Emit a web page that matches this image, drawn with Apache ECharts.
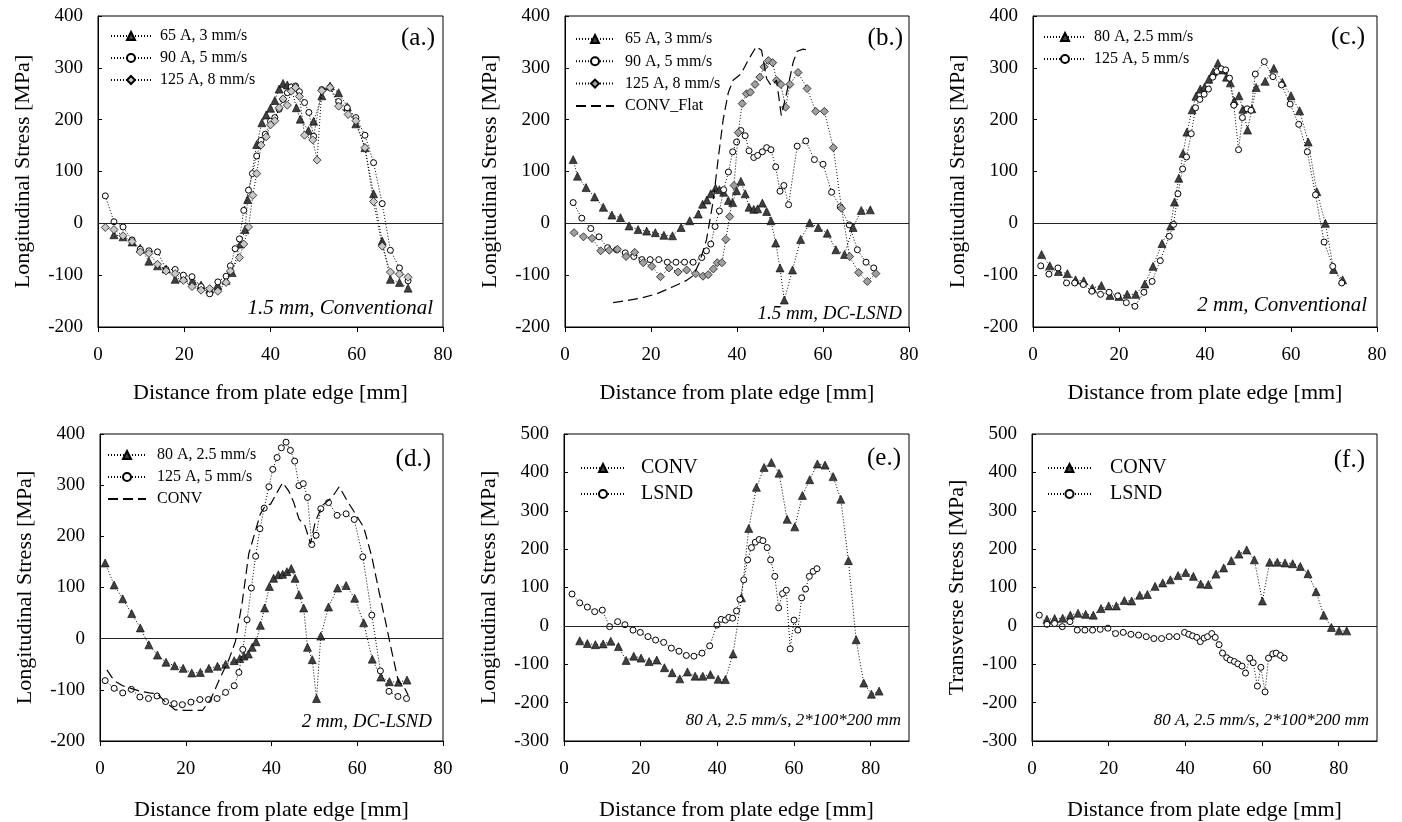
<!DOCTYPE html>
<html><head><meta charset="utf-8">
<script src="https://cdn.jsdelivr.net/npm/echarts@6/dist/echarts.min.js"></script>
<style>html,body{margin:0;padding:0;background:#fff}#c{width:1402px;height:822px}</style>
</head><body><div id="c"></div>
<script>
// ---------- DATA ----------
const xTicks = [0, 20, 40, 60, 80];
// (a.) 1.5 mm, Conventional
const a1 = [[3.7,-22],[5.8,-26],[7.9,-36],[9.8,-48],[11.8,-73],[13.8,-82],[15.8,-88],[17.9,-108],[19.8,-105],[21.9,-111],[23.9,-119],[25.9,-127],[27.8,-120],[29.7,-110],[31.1,-95],[33,-40],[34.1,-12],[34.7,46],[36.8,152],[38,194],[39,209],[40,222],[41,237],[42,259],[42.9,270],[43.9,267],[44.8,262],[46,223],[46.9,201],[48.8,179],[50,197],[51.9,246],[53.8,265],[55.8,252],[57.8,225],[59.8,192],[61.9,146],[63.9,57],[65.9,-34],[67.8,-108],[69.9,-114],[71.9,-125]];
const a2 = [[1.7,53],[3.7,3],[5.8,-7],[7.9,-32],[9.8,-50],[11.8,-53],[13.8,-55],[15.8,-89],[17.9,-89],[19.8,-100],[21.8,-103],[23.9,-122],[25.9,-136],[27.8,-113],[29.7,-102],[30.7,-82],[31.8,-49],[32.8,-30],[33.8,25],[34.9,64],[35.8,96],[36.8,130],[37.8,160],[38.8,172],[40,197],[41,204],[42,220],[42.9,239],[43.9,252],[44.8,263],[45.8,265],[46.7,254],[47.9,233],[48.9,214],[50,168],[51.9,258],[53.8,262],[55.8,235],[57.8,223],[59.8,204],[61.9,170],[63.9,117],[65.9,38],[67.8,-52],[69.9,-86],[71.9,-111]];
const a3 = [[1.7,-8],[3.7,-12],[5.8,-24],[7.9,-35],[9.8,-55],[11.8,-58],[13.8,-79],[15.8,-92],[17.9,-97],[19.8,-110],[21.8,-122],[23.9,-129],[25.9,-126],[27.8,-131],[29.7,-114],[30.7,-92],[32.8,-66],[33.8,-40],[34.9,-7],[35.9,54],[36.8,96],[37.8,151],[39,167],[40,190],[41,198],[42,223],[42.9,240],[43.9,228],[44.8,255],[45.8,262],[46.7,245],[47.9,170],[49.8,161],[50.8,122],[51.9,256],[53.8,262],[55.8,226],[58,210],[59.8,198],[61.9,146],[63.9,42],[65.9,-44],[67.8,-94],[69.9,-98],[71.9,-104]];
// (b.) 1.5 mm, DC-LSND
const b1 = [[1.9,123],[2.9,91],[4.9,69],[6.9,51],[8.9,31],[10.9,16],[12.9,11],[14.9,-5],[17,-12],[19,-15],[21,-18],[23,-23],[25,-24],[27,-8],[29,5],[31,18],[32,37],[33,45],[33.9,57],[35,68],[35.9,65],[36.9,60],[38,44],[39,40],[39.9,63],[40.9,81],[41.9,57],[42.8,31],[43.9,27],[44.8,28],[45.9,39],[46.9,23],[47.9,5],[49,-38],[50,-86],[51,-148],[52.9,-90],[54.8,-31],[56.9,1],[58.9,-8],[61,-19],[63,-51],[65,-60],[67,-8],[68.9,25],[71,26]];
const b2 = [[1.9,40],[3.9,10],[6,-10],[7.9,-26],[9.9,-47],[12,-51],[14,-57],[16,-64],[17.9,-70],[19.8,-70],[21.8,-70],[23.8,-75],[25.8,-75],[27.8,-75],[29.8,-75],[31.8,-66],[32.9,-53],[33.9,-40],[34.9,-6],[35.9,24],[36.9,65],[38,99],[39,138],[39.9,157],[40.9,179],[41.9,169],[42.8,140],[43.9,127],[44.8,131],[45.9,138],[46.9,146],[47.9,142],[49,109],[50,62],[50.9,73],[52,36],[54,149],[56,159],[58,123],[60,114],[62,60],[64,32],[66.1,-3],[68,-51],[70,-75],[71.8,-86]];
const b3 = [[2.1,-18],[4.3,-26],[6.3,-29],[8.3,-53],[10.3,-52],[12.2,-50],[14.2,-64],[16.2,-56],[18.2,-76],[20.2,-83],[22.2,-103],[24.2,-86],[26.3,-94],[28.3,-90],[30.4,-97],[32.1,-102],[33.3,-99],[34.5,-88],[35.4,-76],[36.5,-76],[37.4,-31],[38.3,13],[39.3,73],[40.3,175],[41.2,231],[42.2,250],[43.1,253],[44.2,268],[45.3,282],[46.3,302],[47.3,314],[48.3,310],[49.2,276],[50.2,268],[51.3,224],[52.3,268],[54.2,291],[56.3,260],[58.3,216],[60.3,216],[62.4,146],[64.3,29],[66.2,-64],[68.3,-95],[70.3,-112],[72.3,-97]];
const b4 = [[11.2,-153],[14.3,-149],[17.8,-144],[21.3,-136],[25.2,-122],[28.3,-110],[29.8,-101],[31.3,-75],[32.9,-32],[34.5,45],[35.6,123],[36.8,201],[38,253],[39.1,276],[41,289],[42.6,315],[44.5,341],[45.7,334],[46.9,279],[48,265],[49.2,276],[50.3,208],[51.5,250],[53.1,312],[54,332],[55.4,336],[56.5,334]];
// (c.) 2 mm, Conventional
const c1 = [[2,-60],[3.9,-82],[5.9,-93],[8,-97],[9.9,-109],[11.8,-111],[13.8,-125],[15.9,-120],[17.9,-139],[20,-141],[21.9,-137],[23.9,-137],[26,-117],[27.9,-83],[30,-39],[32,-5],[32.9,41],[33.9,87],[34.9,135],[35.8,176],[37,219],[37.9,245],[38.9,259],[39.9,263],[40.9,278],[41.9,292],[43,309],[44,296],[45,282],[45.9,271],[46.8,236],[47.9,246],[48.8,220],[49.9,180],[50.9,221],[51.9,262],[54,274],[56,299],[58,272],[60,246],[62,217],[64,157],[66,61],[68,0],[69.9,-89],[72,-109]];
const c2 = [[1.8,-82],[3.7,-98],[5.8,-86],[7.8,-115],[9.7,-115],[11.7,-118],[13.7,-131],[15.7,-137],[17.7,-133],[19.7,-140],[21.7,-153],[23.7,-160],[25.8,-133],[27.7,-112],[29.6,-72],[31.7,-25],[32.7,-2],[33.7,57],[34.8,105],[35.7,128],[36.8,173],[37.8,223],[38.8,239],[39.8,249],[40.8,259],[41.8,282],[42.8,293],[43.8,298],[44.8,296],[45.7,280],[46.7,228],[47.8,142],[48.7,204],[49.8,221],[50.7,218],[51.7,288],[53.8,312],[55.8,283],[57.8,267],[59.8,230],[61.8,191],[63.8,138],[65.7,55],[67.7,-36],[69.7,-83],[71.8,-115]];
// (d.) 2 mm, DC-LSND
const d1 = [[1.2,148],[3.3,105],[5.3,78],[7.4,49],[9.4,21],[11.4,-12],[13.4,-32],[15.4,-46],[17.4,-53],[19.4,-58],[21.4,-67],[23.4,-66],[25.4,-58],[27.4,-54],[29.3,-50],[31.3,-43],[32.6,-39],[33.6,-34],[34.6,-30],[35.5,-17],[36.4,-6],[37.4,26],[38.4,60],[39.5,102],[40.5,118],[41.6,125],[42.6,126],[43.6,131],[44.6,137],[45.5,118],[46.4,86],[47.5,60],[48.4,-17],[49.5,-41],[50.5,-117],[51.5,5],[53.3,62],[55.4,99],[57.4,104],[59.4,79],[61.5,31],[63.5,-40],[65.5,-75],[67.5,-84],[69.6,-85],[71.6,-81]];
const d2 = [[1.2,-82],[3.3,-97],[5.3,-106],[7.3,-99],[9.3,-114],[11.3,-117],[13.3,-112],[15.3,-123],[17.3,-127],[19.2,-129],[21.2,-124],[23.3,-119],[25.3,-119],[27.3,-117],[29.3,-105],[31.3,-92],[32.4,-66],[33.3,-21],[34.3,37],[35.3,99],[36.3,161],[37.3,215],[38.3,255],[39.4,297],[40.3,331],[41.3,354],[42.3,373],[43.4,384],[44.4,368],[45.4,347],[46.4,299],[47.4,303],[48.4,276],[49.4,184],[50.4,202],[51.5,254],[53.3,266],[55.3,241],[57.4,244],[59.3,233],[61.3,160],[63.4,46],[65.4,-63],[67.4,-103],[69.5,-113],[71.5,-117]];
const d3 = [[1.6,-61],[3.3,-82],[5.3,-92],[7.6,-98],[9.5,-103],[11.5,-106],[13.4,-108],[15.3,-124],[17.5,-139],[19.6,-140],[21.6,-140],[23.9,-140],[25.8,-119],[28.1,-75],[30.1,-40],[31.6,-5],[33.2,73],[34.7,166],[36.3,212],[37.4,244],[38.6,260],[39.8,263],[41.3,286],[42.6,305],[44,289],[45.2,266],[46.4,234],[47.8,221],[49.1,186],[50.2,228],[51.8,260],[54.1,276],[55.8,297],[57.6,270],[59.5,245],[61.5,218],[63.4,160],[65,95],[66.5,37],[68.1,-27],[69.6,-84],[70.8,-92],[71.9,-111]];
// (e.) 80 A, 2.5 mm/s, longitudinal
const e1 = [[4.1,-39],[6.1,-46],[8.2,-49],[10.2,-47],[12.2,-40],[14.2,-54],[16.2,-90],[18.2,-79],[20.1,-84],[22.2,-93],[24.2,-89],[26.2,-109],[28.2,-122],[30.2,-138],[32.2,-120],[34.2,-131],[36.2,-131],[38.2,-127],[40.2,-139],[42.1,-140],[44.1,-73],[46.3,73],[48.2,254],[50.2,361],[52.2,413],[54.1,426],[56.1,398],[58.2,278],[60.2,258],[62.2,340],[64.1,381],[66.1,422],[68.1,419],[70.2,389],[72.2,330],[74.2,170],[76.2,-36],[78.2,-149],[80.2,-178],[82.2,-170]];
const e2 = [[2.1,83],[4.1,60],[6.1,49],[8,37],[10,41],[11.9,-2],[14,11],[15.9,3],[18,-11],[19.9,-17],[21.9,-28],[23.9,-37],[26,-43],[28,-58],[30,-66],[31.9,-77],[33.9,-79],[36,-71],[38,-52],[39.9,2],[41,17],[42.1,15],[43,22],[44,20],[45,39],[45.9,69],[46.9,120],[47.9,172],[48.9,204],[49.9,218],[50.9,225],[51.9,222],[53,204],[53.9,172],[55,129],[56,47],[57,84],[58,93],[59,-60],[60,15],[61,-11],[62,73],[63,96],[64,129],[65,142],[66,149]];
// (f.) 80 A, 2.5 mm/s, transverse
const f1 = [[3.9,17],[5.9,19],[8,20],[10,28],[12,33],[14,30],[16,28],[18,45],[20,52],[22,52],[24.1,66],[26,65],[28.1,80],[30.1,82],[32.1,103],[34.1,112],[36.1,120],[38.1,131],[40.1,139],[42.1,129],[44,109],[46,108],[48,135],[50,151],[52,170],[54,187],[56,198],[58,172],[60.1,65],[62,166],[64,166],[66,164],[68,162],[70,155],[72,136],[74.1,89],[76.1,28],[78.1,-4],[80.1,-13],[82.1,-13]];
const f2 = [[1.9,28],[3.9,4],[5.9,6],[7.9,-2],[9.9,11],[11.8,-11],[13.8,-11],[15.8,-11],[17.8,-9],[19.8,-6],[21.8,-20],[23.8,-17],[25.8,-22],[27.8,-24],[29.8,-28],[31.8,-33],[33.8,-33],[35.8,-28],[37.8,-28],[39.8,-17],[40.9,-22],[41.9,-26],[43,-30],[43.9,-41],[44.9,-32],[45.8,-28],[46.9,-20],[47.8,-30],[48.8,-49],[49.7,-71],[50.8,-83],[51.7,-89],[52.8,-93],[53.7,-99],[54.8,-105],[55.7,-123],[56.8,-84],[57.7,-96],[58.8,-157],[59.7,-108],[60.8,-172],[61.7,-84],[62.8,-73],[63.7,-71],[64.8,-77],[65.8,-84]];

// ---------- STYLE / LAYOUT ----------
const FONT = 'Liberation Serif';
const DOT = [1, 2];
const styles = {
  tri:  {symbol:'triangle', symbolSize:8, itemStyle:{color:'#404040', borderColor:'#000', borderWidth:0.6}},
  circ: {symbol:'circle', symbolSize:6, itemStyle:{color:'#fff', borderColor:'#000', borderWidth:1}},
  diaL: {symbol:'diamond', symbolSize:8, itemStyle:{color:'#c8c8c8', borderColor:'#000', borderWidth:0.7}},
  dia:  {symbol:'diamond', symbolSize:8, itemStyle:{color:'#a0a0a0', borderColor:'#000', borderWidth:0.7}},
  dash: {symbol:'none', itemStyle:{color:'#000'}}
};

const panels = [
  {k:'a', grid:{left:98, top:16, width:345, height:311}, ymin:-200, ymax:400, xmax:80, yName:'Longitudinal Stress [MPa]',
   tag:'(a.)', tagPos:[435,38.5], note:'1.5 mm, Conventional', noteFs:21, notePos:[433,308],
   leg:{left:110, top:28, w:40, gap:6, pad:4, fs:16, lh:14},
   series:[['65 A, 3 mm/s',a1,'tri'],['90 A, 5 mm/s',a2,'circ'],['125 A, 8 mm/s',a3,'diaL']]},
  {k:'b', grid:{left:565, top:16, width:344, height:311}, ymin:-200, ymax:400, xmax:80, yName:'Longitudinal Stress [MPa]',
   tag:'(b.)', tagPos:[903,38.5], note:'1.5 mm, DC-LSND', noteFs:19, notePos:[902,314],
   leg:{left:575, top:31, w:38, gap:6.3, pad:6, fs:16, lh:14},
   series:[['65 A, 3 mm/s',b1,'tri'],['90 A, 5 mm/s',b2,'circ'],['125 A, 8 mm/s',b3,'dia'],['CONV_Flat',b4,'dash']]},
  {k:'c', grid:{left:1033, top:16, width:344, height:311}, ymin:-200, ymax:400, xmax:80, yName:'Longitudinal Stress [MPa]',
   tag:'(c.)', tagPos:[1365,37], note:'2 mm, Conventional', noteFs:21, notePos:[1367,305],
   leg:{left:1043, top:29, w:42, gap:6, pad:3, fs:16, lh:14},
   series:[['80 A, 2.5 mm/s',c1,'tri'],['125 A, 5 mm/s',c2,'circ']]},
  {k:'d', grid:{left:100, top:434, width:343, height:308}, ymin:-200, ymax:400, xmax:80, yName:'Longitudinal Stress [MPa]',
   tag:'(d.)', tagPos:[431,459], note:'2 mm, DC-LSND', noteFs:19, notePos:[432,722],
   leg:{left:107, top:447, w:38, gap:6, pad:6, fs:16, lh:14},
   series:[['80 A, 2.5 mm/s',d1,'tri'],['125 A, 5 mm/s',d2,'circ'],['CONV',d3,'dash']]},
  {k:'e', grid:{left:564, top:434, width:345, height:308}, ymin:-300, ymax:500, xmax:90, yName:'Longitudinal Stress [MPa]',
   tag:'(e.)', tagPos:[901,458], note:'80 A, 2.5 mm/s, 2*100*200 mm', noteFs:17, notePos:[901,721],
   leg:{left:580, top:458, w:44, gap:6, pad:11, fs:20, lh:18},
   series:[['CONV',e1,'tri'],['LSND',e2,'circ']]},
  {k:'f', grid:{left:1032, top:434, width:345, height:308}, ymin:-300, ymax:500, xmax:90, yName:'Transverse Stress [MPa]',
   tag:'(f.)', tagPos:[1365,460], note:'80 A, 2.5 mm/s, 2*100*200 mm', noteFs:17, notePos:[1369,721],
   leg:{left:1047, top:458, w:43, gap:6, pad:14, fs:20, lh:18},
   series:[['CONV',f1,'tri'],['LSND',f2,'circ']]}
];

const grid = [], xAxis = [], yAxis = [], series = [], legend = [], graphic = [];
panels.forEach((p, i) => {
  grid.push(Object.assign({show:true, borderColor:'#000', borderWidth:1, containLabel:false}, p.grid));
  xAxis.push({type:'value', gridIndex:i, min:0, max:p.xmax, interval:20,
    axisLine:{show:true, onZero:false, lineStyle:{color:'#000', width:1}},
    axisTick:{show:true, inside:false, length:5, lineStyle:{color:'#000'}, customValues:xTicks},
    axisLabel:{color:'#000', fontFamily:FONT, fontSize:19, margin:19, customValues:xTicks},
    splitLine:{show:false},
    name:'Distance from plate edge [mm]', nameLocation:'middle', nameGap: i < 3 ? 55 : 58,
    nameTextStyle:{color:'#000', fontFamily:FONT, fontSize:22}});
  yAxis.push({type:'value', gridIndex:i, min:p.ymin, max:p.ymax, interval:100,
    axisLine:{show:true, onZero:false, lineStyle:{color:'#000', width:1}},
    axisTick:{show:true, inside:true, length:4, lineStyle:{color:'#000'}},
    axisLabel:{color:'#000', fontFamily:FONT, fontSize:19, margin:15},
    splitLine:{show:false},
    name:p.yName, nameLocation:'middle', nameGap:64,
    nameTextStyle:{color:'#000', fontFamily:FONT, fontSize:22}});
  const legData = [];
  p.series.forEach((s, j) => {
    const st = styles[s[2]];
    const nm = p.k + ':' + s[0];
    const ser = {type:'line', name:nm, xAxisIndex:i, yAxisIndex:i, data:s[1],
      symbol:st.symbol, symbolSize:st.symbolSize || 0, showSymbol: st.symbol !== 'none',
      itemStyle:st.itemStyle,
      lineStyle: s[2] === 'dash' ? {type:[10,5], width:1.2, color:'#000'} : {type:DOT, width:1, color:'#000'},
      emphasis:{disabled:true}, silent:true, animation:false, z: 3 + j};
    if (j === 0) {
      ser.markLine = {silent:true, symbol:'none', animation:false, label:{show:false},
        lineStyle:{type:'solid', color:'#222', width:1}, data:[{yAxis:0}]};
    }
    series.push(ser);
    if (s[2] === 'dash') legData.push({name:nm, itemStyle:{color:'rgba(0,0,0,0)', borderColor:'rgba(0,0,0,0)', borderWidth:0}});
    else legData.push({name:nm});
  });
  legend.push({orient:'vertical', left:p.leg.left, top:p.leg.top, padding:0, itemWidth:p.leg.w, itemHeight:10,
    itemGap:p.leg.gap, selectedMode:false, data:legData, formatter: n => n.slice(2),
    textStyle:{color:'#000', fontFamily:FONT, fontSize:p.leg.fs, lineHeight:p.leg.lh, padding:[0,0,0,p.leg.pad]}});
  graphic.push({type:'text', x:p.tagPos[0], y:p.tagPos[1], silent:true,
    style:{text:p.tag, fill:'#000', font:'25px "' + FONT + '"', align:'right', verticalAlign:'middle', textAlign:'right', textVerticalAlign:'middle'}});
  graphic.push({type:'text', x:p.notePos[0], y:p.notePos[1], silent:true,
    style:{text:p.note, fill:'#000', font:'italic ' + p.noteFs + 'px "' + FONT + '"', align:'right', verticalAlign:'middle', textAlign:'right', textVerticalAlign:'middle'}});
});

const chart = echarts.init(document.getElementById('c'), null, {renderer:'canvas'});
chart.setOption({animation:false, backgroundColor:'#fff', grid, xAxis, yAxis, series, legend, graphic});
</script>
</body></html>
